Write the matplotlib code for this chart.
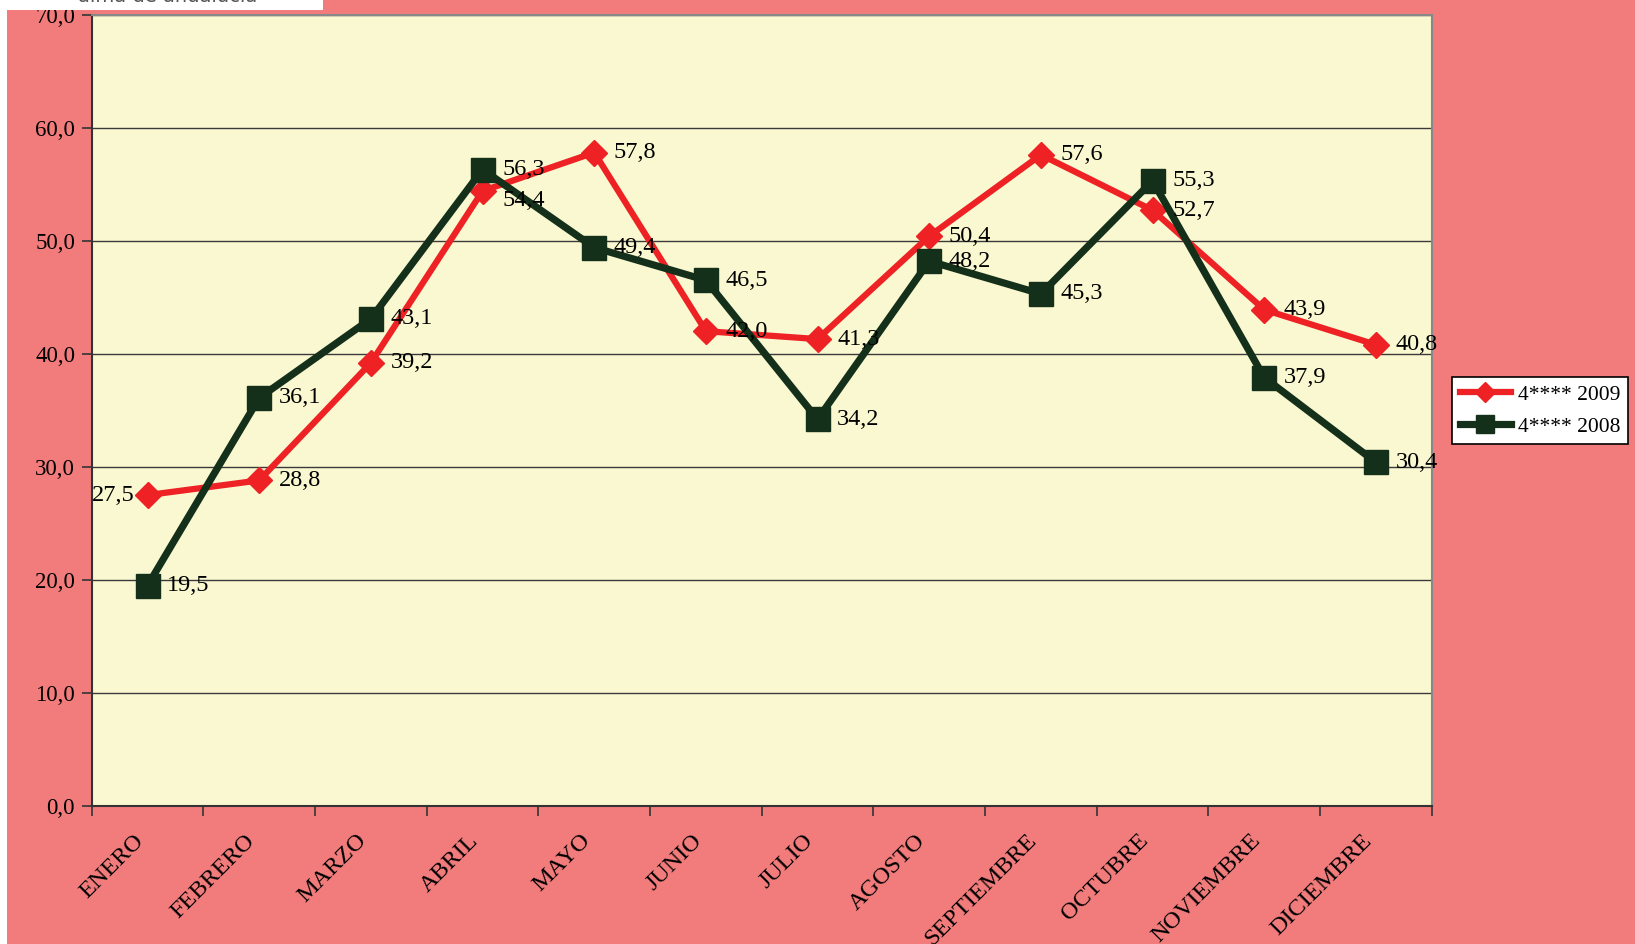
import matplotlib.pyplot as plt
import numpy as np
from matplotlib.patches import Rectangle

# Data
months = ['ENERO', 'FEBRERO', 'MARZO', 'ABRIL', 'MAYO', 'JUNIO', 'JULIO',
          'AGOSTO', 'SEPTIEMBRE', 'OCTUBRE', 'NOVIEMBRE', 'DICIEMBRE']
values_2009 = [27.5, 28.8, 39.2, 54.4, 57.8, 42.0, 41.3, 50.4, 57.6, 52.7, 43.9, 40.8]
values_2008 = [19.5, 36.1, 43.1, 56.3, 49.4, 46.5, 34.2, 48.2, 45.3, 55.3, 37.9, 30.4]
label_2009 = '4**** 2009'
label_2008 = '4**** 2008'

BG = '#F27C7C'
PLOT_BG = '#FAF8D0'
RED = '#EE2124'
GREEN = '#14301A'

plt.rcParams['font.family'] = ['Liberation Serif', 'DejaVu Serif']

fig = plt.figure(figsize=(16.35, 9.44), dpi=100, facecolor=BG)
ax = fig.add_axes([0.0561, 0.1462, 0.8196, 0.8383])
ax.set_facecolor(PLOT_BG)

# white strip on the left and the cut-off header box
fig.patches.append(Rectangle((0, 0), 7 / 1635, 1, transform=fig.transFigure,
                             facecolor='white', edgecolor='none', zorder=0))
fig.patches.append(Rectangle((0, 1 - 10 / 944), 323 / 1635, 10 / 944, transform=fig.transFigure,
                             facecolor='white', edgecolor='none', zorder=0))
fig.text(78 / 1635, 1 - 2 / 944, 'alma de andalucia', color='#555555', fontsize=14,
         family='DejaVu Sans', va='baseline', ha='left')

x = np.arange(len(months))
ax.plot(x, values_2009, color=RED, lw=4.5, marker='D', ms=13, label=label_2009, zorder=3)
ax.plot(x, values_2008, color=GREEN, lw=5.2, marker='s', ms=17, label=label_2008, zorder=4)

def fmt(v):
    return f'{v:.1f}'.replace('.', ',')

for i, v in enumerate(values_2009):
    if i == 0:
        ax.annotate(fmt(v), (i, v), xytext=(-9, 0), textcoords='offset points',
                    ha='right', va='center', fontsize=17.5, zorder=5)
    elif i == 3:
        ax.annotate(fmt(v), (i, v), xytext=(14, -7), textcoords='offset points',
                    ha='left', va='center', fontsize=17.5, zorder=5)
    else:
        ax.annotate(fmt(v), (i, v), xytext=(14, 0), textcoords='offset points',
                    ha='left', va='center', fontsize=17.5, zorder=5)
for i, v in enumerate(values_2008):
    ax.annotate(fmt(v), (i, v), xytext=(14, 0), textcoords='offset points',
                ha='left', va='center', fontsize=17.5, zorder=5)

ax.set_xlim(-0.5, len(months) - 0.5)
ax.set_ylim(0, 70)
ax.set_yticks(np.arange(0, 71, 10))
ax.set_yticklabels([fmt(v) for v in np.arange(0, 71, 10)], fontsize=16.5)
ax.yaxis.grid(True, color='#3a3a3a', lw=1)
ax.set_axisbelow(True)

ax.set_xticks(x)
ax.set_xticklabels(months, rotation=45, ha='right', va='bottom',
                   rotation_mode='anchor', fontsize=17.5)
ax.set_xticks(np.arange(-0.5, len(months)), minor=True)
ax.tick_params(axis='x', which='major', length=0, pad=28)
ax.tick_params(axis='x', which='minor', length=7, width=1.2, color='#333333')
ax.tick_params(axis='y', length=7, width=1.2, color='#333333', pad=5)

for s in ['left', 'bottom']:
    ax.spines[s].set_color('#333333')
    ax.spines[s].set_linewidth(1.5)
for s in ['top', 'right']:
    ax.spines[s].set_color('#888888')
    ax.spines[s].set_linewidth(1.5)

leg = ax.legend(loc='upper left', bbox_to_anchor=(1452 / 1635, 1 - 377 / 944),
                bbox_transform=fig.transFigure, fontsize=15.5, frameon=True,
                fancybox=False, framealpha=1, edgecolor='black', handlelength=2.4,
                borderpad=0.35, labelspacing=0.55, handletextpad=0.3, borderaxespad=0,
                markerscale=0.75)
leg.get_frame().set_linewidth(1.2)

fig.savefig('out.png', dpi=100, facecolor=BG)
